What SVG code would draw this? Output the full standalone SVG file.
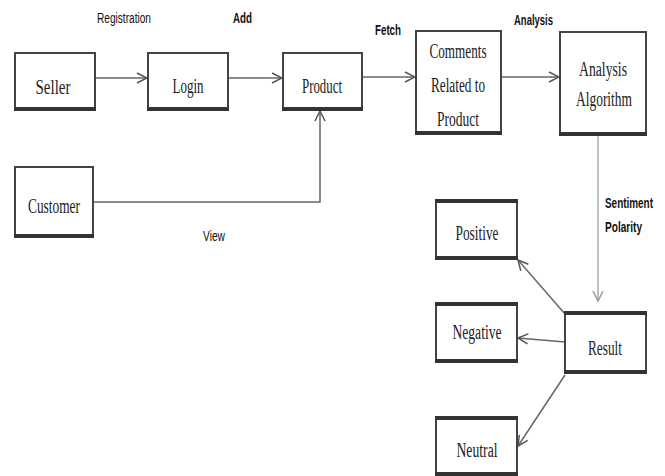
<svg xmlns="http://www.w3.org/2000/svg" width="665" height="476" viewBox="0 0 665 476">
<style>
.box{fill:#fff;stroke:#444;stroke-width:2}
.bot{stroke:#333;stroke-width:4}
.nt{font-family:"Liberation Serif","Times New Roman",serif;font-size:20px;fill:#222;text-anchor:middle}
.lb{font-family:"Liberation Sans",Arial,sans-serif;font-size:14px;fill:#111}
.b{font-weight:bold}
.c{fill:none;stroke:#666;stroke-width:1.5}
.cl{fill:none;stroke:#aaa;stroke-width:1.5}
</style>
<defs>
<marker id="ah" viewBox="0 0 12 12" refX="11" refY="6" markerWidth="12" markerHeight="12" markerUnits="userSpaceOnUse" orient="auto">
<path d="M1,1 L11,6 L1,11" fill="none" stroke="#555" stroke-width="1.5"/>
</marker>
<marker id="ahl" viewBox="0 0 12 12" refX="11" refY="6" markerWidth="12" markerHeight="12" markerUnits="userSpaceOnUse" orient="auto">
<path d="M1,1 L11,6 L1,11" fill="none" stroke="#999" stroke-width="1.5"/>
</marker>
</defs>
<rect width="665" height="476" fill="#fff"/>
<g id="connectors">
<path class="c" d="M95,78 H147" marker-end="url(#ah)"/>
<path class="c" d="M228,78 H282" marker-end="url(#ah)"/>
<path class="c" d="M93,202 H320 V111" marker-end="url(#ah)"/>
<path class="c" d="M362,77 H415" marker-end="url(#ah)"/>
<path class="c" d="M501,77 H559" marker-end="url(#ah)"/>
<path class="cl" d="M598,136 V301" marker-end="url(#ahl)"/>
<path class="c" d="M565,314 L518,260" marker-end="url(#ah)"/>
<path class="c" d="M565,342 L518,338" marker-end="url(#ah)"/>
<path class="c" d="M565,375 L518,446" marker-end="url(#ah)"/>
</g>
<g id="labels">
<text class="lb" x="97" y="23" textLength="54" lengthAdjust="spacingAndGlyphs">Registration</text>
<text class="lb b" x="233" y="23" textLength="19" lengthAdjust="spacingAndGlyphs">Add</text>
<text class="lb b" x="375" y="35" textLength="26" lengthAdjust="spacingAndGlyphs">Fetch</text>
<text class="lb b" x="514" y="25" textLength="39" lengthAdjust="spacingAndGlyphs">Analysis</text>
<text class="lb" x="203" y="241" textLength="22" lengthAdjust="spacingAndGlyphs">View</text>
<text class="lb b" x="605" y="208" textLength="48" lengthAdjust="spacingAndGlyphs">Sentiment</text>
<text class="lb b" x="605" y="232" textLength="37" lengthAdjust="spacingAndGlyphs">Polarity</text>
</g>
<g id="seller">
<rect class="box" x="15" y="53" width="80" height="57"/><line class="bot" x1="14" y1="109" x2="96" y2="109"/>
<text class="nt" x="53" y="94" textLength="35" lengthAdjust="spacingAndGlyphs">Seller</text>
</g>
<g id="login">
<rect class="box" x="148" y="53" width="80" height="57"/><line class="bot" x1="147" y1="109" x2="229" y2="109"/>
<text class="nt" x="188" y="93" textLength="31" lengthAdjust="spacingAndGlyphs">Login</text>
</g>
<g id="product">
<rect class="box" x="283" y="53" width="79" height="57"/><line class="bot" x1="282" y1="109" x2="363" y2="109"/>
<text class="nt" x="322" y="93" textLength="40" lengthAdjust="spacingAndGlyphs">Product</text>
</g>
<g id="customer">
<rect class="box" x="15" y="167" width="78" height="70"/><line class="bot" x1="14" y1="236" x2="94" y2="236"/>
<text class="nt" x="54" y="213" textLength="52" lengthAdjust="spacingAndGlyphs">Customer</text>
</g>
<g id="comments">
<rect class="box" x="416" y="31" width="85" height="103"/><line class="bot" x1="415" y1="133" x2="502" y2="133"/>
<text class="nt" x="458" y="58" textLength="57" lengthAdjust="spacingAndGlyphs">Comments</text>
<text class="nt" x="458" y="92" textLength="54" lengthAdjust="spacingAndGlyphs">Related to</text>
<text class="nt" x="458" y="126" textLength="42" lengthAdjust="spacingAndGlyphs">Product</text>
</g>
<g id="analysis">
<rect class="box" x="560" y="32" width="86" height="103"/><line class="bot" x1="559" y1="134" x2="647" y2="134"/>
<text class="nt" x="603" y="76" textLength="48" lengthAdjust="spacingAndGlyphs">Analysis</text>
<text class="nt" x="604" y="106" textLength="56" lengthAdjust="spacingAndGlyphs">Algorithm</text>
</g>
<g id="result">
<rect class="box" x="565" y="314" width="81" height="59"/><line class="bot" x1="564" y1="313" x2="647" y2="313"/><line class="bot" x1="564" y1="372" x2="647" y2="372"/>
<text class="nt" x="605" y="355" textLength="34" lengthAdjust="spacingAndGlyphs">Result</text>
</g>
<g id="positive">
<rect class="box" x="436" y="201" width="81" height="58"/><line class="bot" x1="435" y1="201" x2="518" y2="201"/><line class="bot" x1="435" y1="258" x2="518" y2="258"/>
<text class="nt" x="477" y="240" textLength="43" lengthAdjust="spacingAndGlyphs">Positive</text>
</g>
<g id="negative">
<rect class="box" x="436" y="304" width="81" height="58"/><line class="bot" x1="435" y1="304" x2="518" y2="304"/><line class="bot" x1="435" y1="361" x2="518" y2="361"/>
<text class="nt" x="477" y="339" textLength="49" lengthAdjust="spacingAndGlyphs">Negative</text>
</g>
<g id="neutral">
<rect class="box" x="436" y="418" width="81" height="56"/><line class="bot" x1="435" y1="418" x2="518" y2="418"/><line class="bot" x1="435" y1="474" x2="518" y2="474"/>
<text class="nt" x="477" y="457" textLength="41" lengthAdjust="spacingAndGlyphs">Neutral</text>
</g>
</svg>
